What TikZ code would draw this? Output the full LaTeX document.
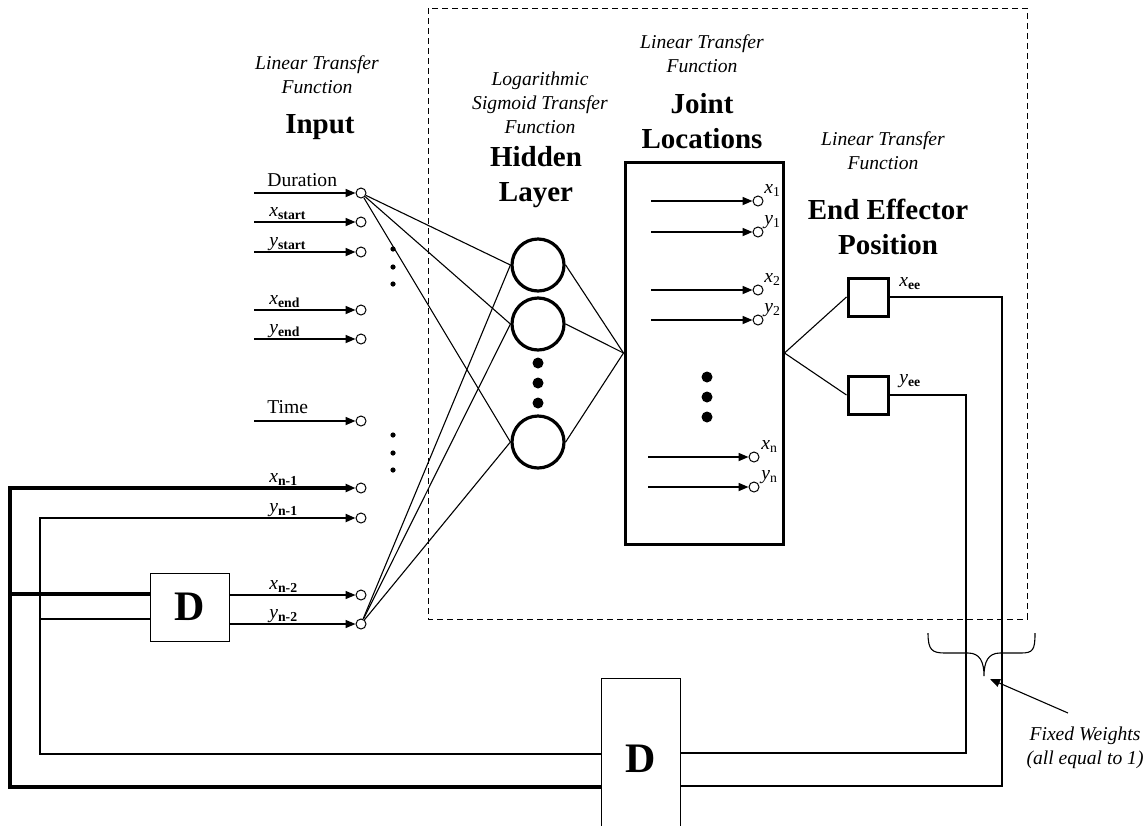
\documentclass[tikz,border=0pt]{standalone}
\usepackage{fontspec}
\setmainfont{Liberation Serif}
\usetikzlibrary{arrows.meta}

\begin{document}
\begin{tikzpicture}[x=0.5pt,y=-0.5pt,
  wire/.style={line width=0.55pt},
  tip/.style={-{Triangle[length=5pt,width=4pt]}},
  inarr/.style={line width=0.85pt,tip},
  thinarr/.style={line width=0.7pt,tip},
  inode/.style={circle,draw,line width=0.5pt,fill=white,minimum size=5pt,inner sep=0pt},
  neuron/.style={circle,draw,line width=1.6pt,minimum size=26pt,inner sep=0pt},
  outsq/.style={draw,line width=1.5pt,minimum width=20pt,minimum height=19pt,inner sep=0pt},
  delay/.style={draw,line width=0.5pt,fill=white,inner sep=0pt,font=\fontsize{21}{21}\selectfont\bfseries},
  fnlabel/.style={align=center,font=\fontsize{9.8}{12}\selectfont\itshape},
  title/.style={align=center,font=\fontsize{14.5}{17.5}\selectfont\bfseries},
  sig/.style={anchor=base west,inner sep=0pt,font=\fontsize{9.8}{12}\selectfont},
  bigdot/.style={circle,fill,inner sep=0pt,minimum size=#1},
  fb/.style={line width=2pt},
  fbin/.style={line width=1.1pt},
]
\useasboundingbox (0,0) rectangle (1143,825);
\clip (0,0) rectangle (1143,825);

% network boundary
\draw[dash pattern=on 3pt off 2pt,line width=0.5pt] (428,8) rectangle (1027,619);

% layer captions
\node[fnlabel] (capin) at (317,75) {Linear Transfer\\Function};
\node[title] (ttlin) at (320,127) {Input};
\node[fnlabel] (caphid) at (540,103) {Logarithmic\\Sigmoid Transfer\\Function};
\node[title] (ttlhid) at (536,177) {Hidden\\Layer};
\node[fnlabel] (capjoint) at (702,54) {Linear Transfer\\Function};
\node[title] (ttljoint) at (702,121) {Joint\\Locations};
\node[fnlabel] (capend) at (883,151) {Linear Transfer\\Function};
\node[title] (ttlend) at (888,227) {End Effector\\Position};

% input nodes
\foreach \i/\y in {1/193,2/222,3/252,4/310,5/339,6/421,7/488,8/518,9/595,10/624}
  \node[inode] (in\i) at (361,\y) {};
\foreach \i/\y in {1/193,2/222,3/252,4/310,5/339,6/421} {
  \coordinate (s\i) at (254,\y);
  \draw[inarr] (s\i) -- (in\i);
}
\node[sig] (lab1) at (267,186) {Duration};
\node[sig] (lab2) at (269,216) {\textit{x}\textsubscript{\textbf{start}}};
\node[sig] (lab3) at (269,246) {\textit{y}\textsubscript{\textbf{start}}};
\node[sig] (lab4) at (269,304) {\textit{x}\textsubscript{\textbf{end}}};
\node[sig] (lab5) at (269,333) {\textit{y}\textsubscript{\textbf{end}}};
\node[sig] (lab6) at (267,413) {Time};
\node[sig] (lab7) at (269,482) {\textit{x}\textsubscript{\textbf{n-1}}};
\node[sig] (lab8) at (269,512) {\textit{y}\textsubscript{\textbf{n-1}}};
\node[sig] (lab9) at (269,589) {\textit{x}\textsubscript{\textbf{n-2}}};
\node[sig] (lab10) at (269,618) {\textit{y}\textsubscript{\textbf{n-2}}};

\foreach \y in {249,267,284,435,453,470}
  \node[bigdot=2.6pt] at (393,\y) {};

% hidden layer
\node[neuron] (h1) at (538,265) {};
\node[neuron] (h2) at (538,324) {};
\node[neuron] (h3) at (538,442) {};
\foreach \y in {363,383,403}
  \node[bigdot=5.5pt] at (538,\y) {};

% joint locations layer
\node[draw,line width=1.5pt,minimum width=79pt,minimum height=191pt,inner sep=0pt] (joint) at (704,353) {};
\foreach \i/\y/\xa/\xb in {1/201/651/758,2/232/651/758,3/290/651/758,4/320/651/758,5/457/648/754,6/487/648/754} {
  \coordinate (js\i) at (\xa,\y);
  \node[inode] (jo\i) at (\xb,\y) {};
  \draw[inarr] (js\i) -- (jo\i);
}
\node[sig] (jl1) at (764,193) {\textit{x}\textsubscript{1}};
\node[sig] (jl2) at (764,224) {\textit{y}\textsubscript{1}};
\node[sig] (jl3) at (764,282) {\textit{x}\textsubscript{2}};
\node[sig] (jl4) at (764,312) {\textit{y}\textsubscript{2}};
\node[sig] (jl5) at (761,449) {\textit{x}\textsubscript{n}};
\node[sig] (jl6) at (761,479) {\textit{y}\textsubscript{n}};
\foreach \y in {377,397,417}
  \node[bigdot=5.5pt] at (707,\y) {};

% weights between layers
\foreach \h in {h1,h2,h3} {
  \draw[wire] (in1) -- (\h.west);
  \draw[wire] (in10) -- (\h.west);
  \draw[wire] (\h.east) -- (joint.west);
}

% end effector outputs
\node[outsq] (xee) at (868,297) {};
\node[outsq] (yee) at (868,395) {};
\draw[wire] (joint.east) -- (xee.west);
\draw[wire] (joint.east) -- (yee.west);
\node[sig] (xeel) at (899,286) {\textit{x}\textsubscript{\textbf{ee}}};
\node[sig] (yeel) at (899,383) {\textit{y}\textsubscript{\textbf{ee}}};

% delay units
\node[delay,minimum width=39.5pt,minimum height=81pt] (dbot) at (641,759) {D};
\node[delay,minimum width=39.5pt,minimum height=34pt] (dleft) at (189.5,607) {D};

% feedback from end effector into the lower delay
\coordinate (r1) at (1002,786);
\coordinate (r2) at (966,753);
\draw[wire] (xee.east) -| (r1) -- (dbot.east |- r1);
\draw[wire] (yee.east) -| (r2) -- (dbot.east |- r2);

% fed-back previous positions
\coordinate (o1) at (10,787);
\coordinate (o2) at (40,754);
\draw[fb,tip] (dbot.west |- o1) -- (o1) |- (in7);
\draw[fbin,tip] (dbot.west |- o2) -- (o2) |- (in8);
\coordinate (t1) at (10,594);
\coordinate (t2) at (40,619);
\draw[fb] (t1) -- (dleft.west |- t1);
\draw[fbin] (t2) -- (dleft.west |- t2);
\draw[thinarr] (dleft.east |- in9) -- (in9);
\draw[thinarr] (dleft.east |- in10) -- (in10);

% fixed weights brace and note
\draw[wire] (928,633) .. controls (928,650) and (932,653) .. (945,653) -- (968,653)
  .. controls (980,653) and (984,662) .. (984,676)
  .. controls (984,662) and (988,653) .. (1000,653) -- (1021,653)
  .. controls (1033,653) and (1035,650) .. (1035,633);
\node[fnlabel] (fw) at (1085,748) {Fixed Weights\\(all equal to 1)};
\coordinate (fwa) at (1068,713);
\coordinate (bt) at (990,679);
\draw[wire,tip] (fwa) -- (bt);
\end{tikzpicture}
\end{document}
